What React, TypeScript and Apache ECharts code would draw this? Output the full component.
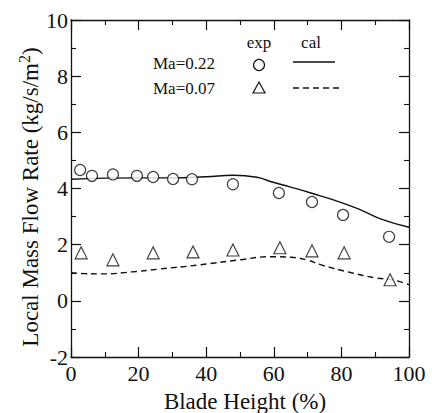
import React, { useEffect, useRef } from "react";
import * as echarts from "echarts";

const xTicks = [0, 20, 40, 60, 80, 100];
const yTicks = [-2, 0, 2, 4, 6, 8, 10];

const expHigh: [number, number][] = [
  [2.7, 4.66], [6.2, 4.45], [12.4, 4.5], [19.5, 4.45], [24.3, 4.41],
  [30.2, 4.34], [35.8, 4.33], [47.9, 4.15], [61.5, 3.84], [71.3, 3.52],
  [80.5, 3.06], [94.1, 2.28],
];
const expLow: [number, number][] = [
  [3.0, 1.71], [12.4, 1.46], [24.3, 1.71], [36.1, 1.74], [47.9, 1.81],
  [61.8, 1.89], [71.3, 1.78], [80.8, 1.71], [94.4, 0.75],
];
const calHigh: [number, number][] = [
  [0, 4.33], [10, 4.37], [20, 4.38], [30, 4.38], [40, 4.42], [48, 4.47],
  [55, 4.4], [59, 4.25], [65, 4.05], [71, 3.84], [80, 3.5], [86, 3.22],
  [92, 2.9], [100, 2.62],
];
const calLow: [number, number][] = [
  [0, 1.0], [4, 0.97], [9, 0.96], [18, 1.03], [26, 1.13], [38, 1.28],
  [50, 1.46], [59, 1.57], [65, 1.55], [70, 1.45], [74, 1.28], [83, 1.0],
  [90, 0.82], [95, 0.75], [100, 0.58],
];

const FONT = "Liberation Serif";
const INK = "#111";

function axisStyle(showLabel: boolean, margin: number) {
  return {
    axisLine: { show: true, onZero: false, lineStyle: { color: INK, width: 1.3 } },
    axisTick: { show: true, inside: true, length: 10, lineStyle: { color: INK, width: 1.2 } },
    minorTick: { show: true, splitNumber: 2, length: 5, lineStyle: { color: INK, width: 1.1 } },
    splitLine: { show: false },
    minorSplitLine: { show: false },
    axisLabel: showLabel
      ? { show: true, color: INK, fontFamily: FONT, fontSize: 22, margin }
      : { show: false },
  };
}

function textEl(text: string, x: number, y: number, size: number, align: string) {
  return {
    type: "text", x, y,
    style: { text, fontFamily: FONT, fontSize: size, fill: INK, align, verticalAlign: "middle" },
  };
}

export default function App() {
  const ref = useRef<HTMLDivElement>(null);
  useEffect(() => {
    if (!ref.current) return;
    const chart = echarts.init(ref.current, null, { renderer: "svg" });
    chart.setOption({
      animation: false,
      grid: { left: 71, top: 20, right: 23, bottom: 56 },
      xAxis: [
        { type: "value", min: xTicks[0], max: xTicks[xTicks.length - 1], interval: 20, position: "bottom", ...axisStyle(true, 5) },
        { type: "value", min: xTicks[0], max: xTicks[xTicks.length - 1], interval: 20, position: "top", ...axisStyle(false, 0) },
      ],
      yAxis: [
        { type: "value", min: yTicks[0], max: yTicks[yTicks.length - 1], interval: 2, position: "left", ...axisStyle(true, 3) },
        { type: "value", min: yTicks[0], max: yTicks[yTicks.length - 1], interval: 2, position: "right", ...axisStyle(false, 0) },
      ],
      series: [
        {
          type: "line", data: calHigh, smooth: true, showSymbol: false, symbol: "none",
          lineStyle: { color: INK, width: 1.4 },
        },
        {
          type: "line", data: calLow, smooth: true, showSymbol: false, symbol: "none",
          lineStyle: { color: INK, width: 1.4, type: [6, 4] },
        },
        {
          type: "scatter", data: expHigh, symbol: "circle", symbolSize: 11,
          itemStyle: { color: "#fff", borderColor: INK, borderWidth: 1.2 },
          z: 5,
        },
        {
          type: "scatter", data: expLow, symbol: "triangle", symbolSize: 12,
          itemStyle: { color: "#fff", borderColor: INK, borderWidth: 1.2 },
          z: 5,
        },
      ],
      graphic: [
        textEl("Blade Height (%)", 245, 401, 23, "center"),
        {
          type: "text", x: 30, y: 197, rotation: Math.PI / 2,
          style: {
            text: "Local Mass Flow Rate (kg/s/m{sup|2})",
            fontFamily: FONT, fontSize: 23, fill: INK, align: "center", verticalAlign: "middle",
            rich: { sup: { fontFamily: FONT, fontSize: 16, fill: INK, padding: [0, 0, 12, 0] } },
          },
        },
        textEl("Ma=0.22", 153, 63, 17, "left"),
        textEl("Ma=0.07", 153, 88, 17, "left"),
        textEl("exp", 259, 42, 17, "center"),
        textEl("cal", 311, 42, 17, "center"),
        {
          type: "circle", shape: { cx: 259, cy: 65, r: 5.5 },
          style: { fill: "#fff", stroke: INK, lineWidth: 1.2 },
        },
        {
          type: "polygon", shape: { points: [[259, 82], [253, 93], [265, 93]] },
          style: { fill: "#fff", stroke: INK, lineWidth: 1.2 },
        },
        {
          type: "line", shape: { x1: 293, y1: 62, x2: 335, y2: 62 },
          style: { stroke: INK, lineWidth: 1.4 },
        },
        {
          type: "line", shape: { x1: 293, y1: 88, x2: 340, y2: 88 },
          style: { stroke: INK, lineWidth: 1.4, lineDash: [6, 4] },
        },
      ],
    });
    return () => chart.dispose();
  }, []);
  return <div ref={ref} style={{ width: 432, height: 413, position: "absolute", left: 0, top: 0 }} />;
}
